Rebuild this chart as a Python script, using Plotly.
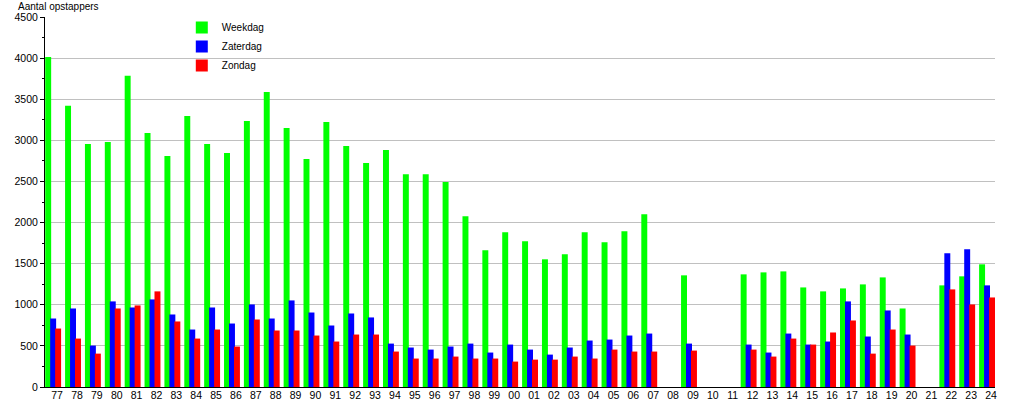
import plotly.graph_objects as go

years = ["77", "78", "79", "80", "81", "82", "83", "84", "85", "86", "87", "88",
         "89", "90", "91", "92", "93", "94", "95", "96", "97", "98", "99", "00",
         "01", "02", "03", "04", "05", "06", "07", "08", "09", "10", "11", "12",
         "13", "14", "15", "16", "17", "18", "19", "20", "21", "22", "23", "24"]

weekdag = [4015, 3420, 2955, 2980, 3785, 3090, 2810, 3297, 2955, 2846, 3236, 3589,
           3150, 2772, 3224, 2931, 2724, 2882, 2589, 2589, 2492, 2077, 1663, 1882,
           1772, 1553, 1614, 1882, 1760, 1894, 2102, 0, 1358, 0, 0, 1370,
           1394, 1406, 1211, 1163, 1199, 1248, 1333, 955, 0, 1236, 1346, 1492]

zaterdag = [833, 955, 504, 1041, 967, 1065, 882, 699, 967, 772, 1004, 833,
            1053, 906, 748, 894, 846, 528, 480, 455, 492, 528, 419, 516,
            455, 394, 480, 565, 577, 626, 650, 0, 528, 0, 0, 516,
            419, 650, 516, 553, 1041, 614, 931, 638, 0, 1626, 1675, 1236]

zondag = [711, 589, 406, 955, 992, 1163, 797, 589, 699, 492, 821, 687,
          687, 626, 553, 638, 638, 431, 346, 346, 370, 346, 346, 309,
          333, 333, 370, 346, 455, 431, 431, 0, 443, 0, 0, 455,
          370, 589, 516, 663, 809, 406, 699, 504, 0, 1187, 1004, 1089]

series = [("Weekdag", weekdag, "#00ff00", -0.6),
          ("Zaterdag", zaterdag, "#0000ff", -0.35),
          ("Zondag", zondag, "#ff0000", -0.1)]

FONT = "Liberation Sans, Arial, sans-serif"

fig = go.Figure()
for name, vals, color, off in series:
    fig.add_trace(go.Bar(
        x=years, y=vals, name=name,
        marker=dict(color=color, line=dict(width=0)),
        width=0.3, offset=off,
    ))

fig.update_layout(
    width=1015, height=400,
    margin=dict(l=45, r=20, t=17, b=13, autoexpand=False),
    paper_bgcolor="white", plot_bgcolor="white",
    barmode="overlay",
    font=dict(family=FONT, size=10.5, color="#000000"),
    title=dict(text="Aantal opstappers", x=18 / 1015, xanchor="left",
               xref="container", y=1 - 6 / 400, yanchor="middle", yref="container",
               automargin=False,
               font=dict(family=FONT, size=10, color="#000000")),
    legend=dict(x=0.144, xanchor="left", y=1.011, yanchor="top",
                bgcolor="rgba(0,0,0,0)", font=dict(family=FONT, size=10),
                itemsizing="constant", tracegroupgap=0),
    showlegend=True,
)

fig.update_xaxes(
    type="category", range=[-0.61, 47.2], automargin=False,
    showgrid=False, showline=True, linecolor="#000000", linewidth=1,
    ticks="", tickfont=dict(family=FONT, size=10.5), ticklabelstandoff=-2,
    fixedrange=True,
)
fig.update_yaxes(
    range=[0, 4500], dtick=500, tick0=0, automargin=False,
    showgrid=True, gridcolor="#c0c0c0", gridwidth=1,
    showline=True, linecolor="#000000", linewidth=1,
    ticks="outside", ticklen=4, tickcolor="#000000",
    minor=dict(dtick=250, ticks="outside", ticklen=2, tickcolor="#000000", showgrid=False),
    tickfont=dict(family=FONT, size=10.5),
    zeroline=False, fixedrange=True,
)

fig.write_html("out.html", config={"displayModeBar": False},
               post_script="document.body.style.margin='0';document.body.style.overflow='hidden';")
